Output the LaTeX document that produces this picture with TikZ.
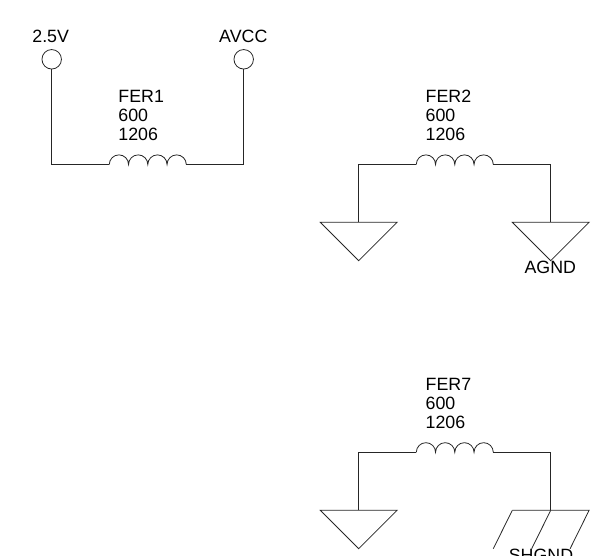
\documentclass[tikz,border=0pt]{standalone}
\usepackage{fontspec}
\setmainfont{Liberation Sans}
\usepackage{tikz}
\usetikzlibrary{math,calc}
\tikzset{
  wire/.style={line width=0.8pt,black!85},
  port/.style={circle,draw,line width=0.8pt,black!85,minimum size=19.5pt,inner sep=0pt},
  txt/.style={inner sep=0pt,anchor=base,font=\fontsize{17.8}{19}\selectfont},
  txtl/.style={txt,anchor=base west},
  coil/.pic={\draw[wire](0,0)arc(180:360:9.625)arc(180:360:9.625)arc(180:360:9.625)arc(180:360:9.625);},
  gnd/.pic={\draw[wire](-38.4,0)--(38.4,0)--(0,38.4)--cycle;},
  shgnd/.pic={\draw[wire](-38.4,0)--(38.4,0)--(19.4,38.4);
    \draw[wire](0,0)--(-19,38.4);
    \draw[wire](-38.4,0)--(-57.4,38.4);}
}
\begin{document}
\begin{tikzpicture}[x=1pt,y=-1pt]
      \useasboundingbox(0,0)rectangle(592,556);
      \clip(0,0)rectangle(592,556);
      \tikzmath{\w=57.6;}
      % FER1
      \node[port](T1) at (51.7,59.3){};
      \node[port](T2) at (243.7,59.3){};
      \coordinate(A1) at (51.7,164.5);
      \coordinate(B1) at ($(A1)+(\w,0)$);
      \coordinate(C1) at ($(B1)+(77,0)$);
      \coordinate(D1) at (243.7,164.5);
      \draw[wire](T1)--(A1)--(B1);
      \draw[wire](C1)--(D1)--(T2);
      \pic at (B1){coil};
      \node[txt](L1) at (50.7,43){2.5V};
      \node[txt](L2) at (243.3,43){AVCC};
      \node[txtl](F1) at (118.2,102.2){FER1};
      \node[txtl](V1) at (118.2,121.2){600};
      \node[txtl](P1) at (118.2,140.2){1206};
      % FER2
      \coordinate(A2) at (358.7,164.5);
      \coordinate(B2) at ($(A2)+(\w,0)$);
      \coordinate(C2) at ($(B2)+(77,0)$);
      \coordinate(D2) at (550.7,164.5);
      \coordinate(G1) at (358.7,222.3);
      \coordinate(G2) at (550.7,222.3);
      \draw[wire](G1)--(A2)--(B2);
      \draw[wire](C2)--(D2)--(G2);
      \pic at (B2){coil};
      \pic at (G1){gnd};
      \pic at (G2){gnd};
      \node[txtl](F2) at (425.5,102.2){FER2};
      \node[txtl](V2) at (425.5,121.2){600};
      \node[txtl](P2) at (425.5,140.2){1206};
      \node[txt](L3) at (550.3,273.3){AGND};
      % FER7
      \coordinate(A3) at (358.7,452.3);
      \coordinate(B3) at ($(A3)+(\w,0)$);
      \coordinate(C3) at ($(B3)+(77,0)$);
      \coordinate(D3) at (550.7,452.3);
      \coordinate(G3) at (358.7,510.3);
      \coordinate(G4) at (550.7,510.3);
      \draw[wire](G3)--(A3)--(B3);
      \draw[wire](C3)--(D3)--(G4);
      \pic at (B3){coil};
      \pic at (G3){gnd};
      \pic at (G4){shgnd};
      \node[txtl](F3) at (425.5,390.2){FER7};
      \node[txtl](V3) at (425.5,409.2){600};
      \node[txtl](P3) at (425.5,428.2){1206};
      \node[txt](L4) at (541,561.5){SHGND};
\end{tikzpicture}
\end{document}
